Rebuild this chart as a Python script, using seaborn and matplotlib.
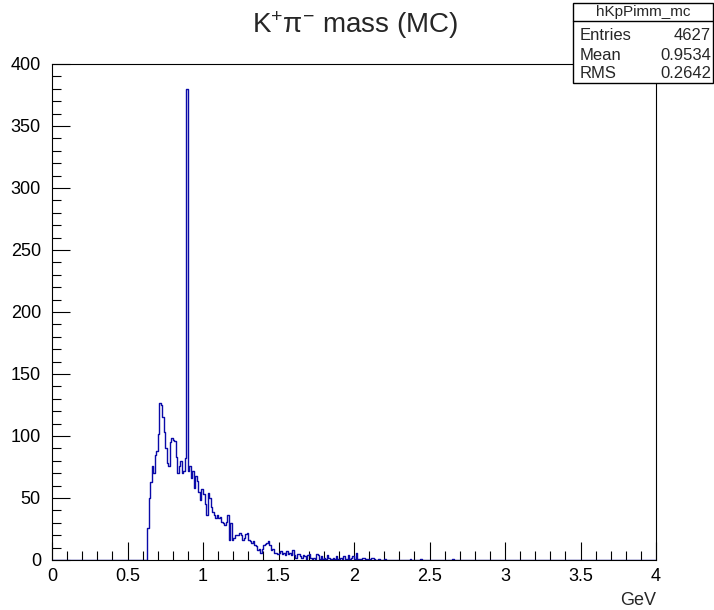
import numpy as np
import pandas as pd
import matplotlib
matplotlib.use("Agg")
import matplotlib.pyplot as plt
import seaborn as sns
from matplotlib.ticker import MultipleLocator
from matplotlib.patches import Rectangle
from matplotlib.lines import Line2D

# ---- data ----
bin_lo, bin_hi, n_bins = 0.0, 4.0, 400
first_bin_start = 0.63
counts_main = [
    26, 50, 63, 76, 70, 85, 88, 102, 127, 125,   # 0.63-0.72
    115, 103, 90, 78, 76, 95, 98, 97, 96, 83,     # 0.73-0.82
    70, 76, 80, 70, 72, 82, 380, 72, 76, 66,      # 0.83-0.92
    72, 58, 68, 64, 55, 48, 57, 53, 45, 36,       # 0.93-1.02
    54, 50, 43, 39, 36, 34, 36, 34, 35, 31,       # 1.03-1.12
    30, 28, 31, 36, 16, 30, 16, 18, 20, 20,       # 1.13-1.22
    20, 22, 20, 16, 18, 21, 22, 16, 15, 14,       # 1.23-1.32
    15, 12, 11, 8, 9, 6, 9, 12, 13, 14,           # 1.33-1.42
    15, 12, 8, 9, 6, 6, 5, 6, 7, 5,               # 1.43-1.52
    6, 4, 7, 5, 6, 4, 8, 4, 2, 5,                 # 1.53-1.62
    5, 3, 2, 4, 3, 1, 4, 5, 2, 1,                 # 1.63-1.72
    2, 1, 5, 4, 1, 3, 1, 2, 1, 4,                 # 1.73-1.82
    2, 1, 1, 2, 1, 3, 1, 1, 2, 1,                 # 1.83-1.92
    3, 1, 1, 4, 1, 2, 3, 1, 6, 1,                 # 1.93-2.02
    1, 1, 2, 2, 1, 1, 1, 1, 2, 2,                 # 2.03-2.12
    1, 0, 0, 1, 0, 0, 0, 1, 0, 0,                 # 2.13-2.22
]
sparse_bins = [2.37, 2.44, 2.65]
sparse_counts = [1, 1, 1]

stats_name = "hKpPimm_mc"
stats_labels = ["Entries", "Mean", "RMS"]
stats_values = ["4627", "0.9534", "0.2642"]
title_text = r"K$^{+}$π$^{-}$ mass (MC)"
x_label = "GeV"

# ---- build histogram table ----
edges = np.linspace(bin_lo, bin_hi, n_bins + 1)
centers = 0.5 * (edges[:-1] + edges[1:])
counts = np.zeros(n_bins)
i0 = int(round(first_bin_start * 100))
counts[i0:i0 + len(counts_main)] = counts_main
for b, c in zip(sparse_bins, sparse_counts):
    counts[int(round(b * 100))] = c
df = pd.DataFrame({"mass": centers, "w": counts})

# ---- style ----
sns.set_theme(style="ticks")
plt.rcParams["font.family"] = ["Liberation Sans", "DejaVu Sans"]
plt.rcParams["mathtext.fontset"] = "custom"
plt.rcParams["mathtext.rm"] = "Liberation Sans"
plt.rcParams["mathtext.it"] = "Liberation Sans:italic"
plt.rcParams["mathtext.bf"] = "Liberation Sans:bold"

W, H = 714, 610
fig = plt.figure(figsize=(W / 100, H / 100), dpi=100)
L, R, T, B = 52, 656, 64, 560
ax = fig.add_axes([L / W, (H - B) / H, (R - L) / W, (B - T) / H])

sns.histplot(data=df, x="mass", weights="w", binwidth=(bin_hi - bin_lo) / n_bins,
             binrange=(bin_lo, bin_hi), element="step",
             fill=False, color="#0a0aa8", linewidth=1.0, ax=ax)

ax.set_xlim(0, 4)
ax.set_ylim(0, 400)
ax.xaxis.set_major_locator(MultipleLocator(0.5))
ax.xaxis.set_minor_locator(MultipleLocator(0.1))
ax.yaxis.set_major_locator(MultipleLocator(50))
ax.yaxis.set_minor_locator(MultipleLocator(10))
ax.xaxis.set_major_formatter(matplotlib.ticker.FuncFormatter(lambda v, p: f"{v:g}"))
ax.tick_params(axis="both", which="major", direction="in", length=13, width=0.8,
               labelsize=13, colors="black")
ax.tick_params(axis="both", which="minor", direction="in", length=6.5, width=0.8,
               colors="black")
ax.tick_params(axis="x", pad=6)
ax.tick_params(axis="y", pad=8)
ax.tick_params(top=False, right=False, which="both")
for s in ax.spines.values():
    s.set_visible(True)
    s.set_color("black")
    s.set_linewidth(0.8)
ax.set_ylabel("")
ax.set_xlabel(x_label, fontsize=13, loc="right", labelpad=5)
ax.grid(False)

# title
fig.text(355 / W, 1 - 25 / H, title_text, ha="center", va="center", fontsize=20)

# stats box
bx0, by0, bx1, by1 = 573, 3, 713, 83
rect = Rectangle((bx0 / W, 1 - by1 / H), (bx1 - bx0) / W, (by1 - by0) / H,
                 transform=fig.transFigure, facecolor="white", edgecolor="black",
                 linewidth=1.0, zorder=10)
fig.patches.append(rect)
fig.lines.append(Line2D([bx0 / W, bx1 / W], [1 - 21 / H, 1 - 21 / H],
                        transform=fig.transFigure, color="black", linewidth=1.0, zorder=11))
fig.text((bx0 + bx1) / 2 / W, 1 - 12 / H, stats_name, ha="center", va="center",
         fontsize=11, zorder=12)
row_y = [36, 55, 74]
for lab, val, yy in zip(stats_labels, stats_values, row_y):
    fig.text(580 / W, 1 - yy / H, lab, ha="left", va="center", fontsize=12, zorder=12)
    fig.text(711 / W, 1 - yy / H, val, ha="right", va="center", fontsize=12, zorder=12)

fig.savefig("out.png", dpi=100)
